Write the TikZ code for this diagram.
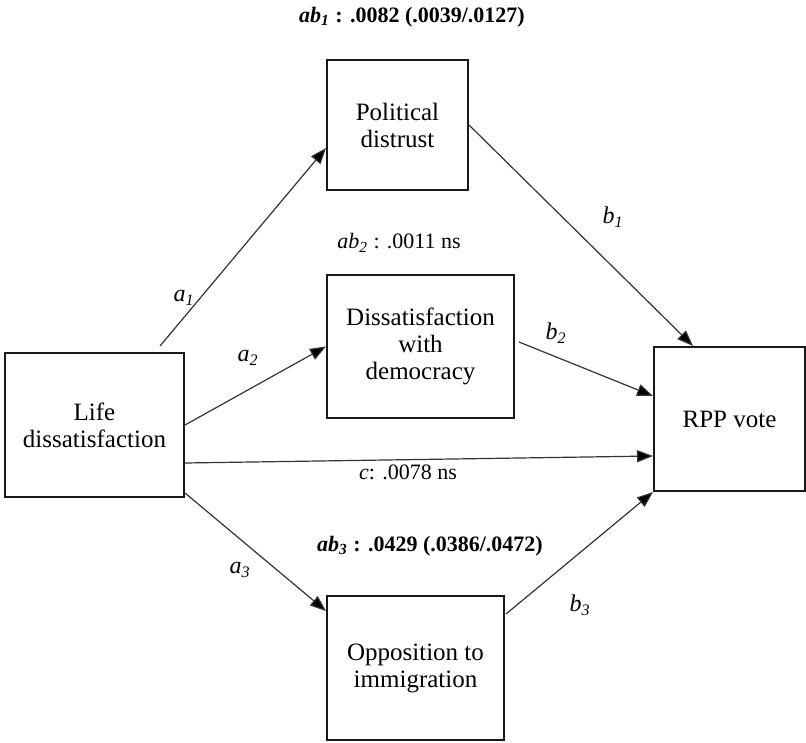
\documentclass[tikz,border=0pt]{standalone}
\usepackage{fontspec}
\setmainfont{Liberation Serif}
\usetikzlibrary{arrows.meta}
\colorlet{inkline}{black!80}
\colorlet{inkbox}{black!90}
\tikzset{
  model/box/.style={draw=inkbox, line width=1pt, inner sep=0pt, align=center,
    font=\fontsize{12.5}{13.5}\selectfont},
  model/path/.style={inkline, line width=0.6pt, -{Triangle[length=8pt,width=6pt,fill=black]}},
  model/coef/.style={font=\fontsize{11}{13}\selectfont, inner sep=1pt},
  model/lbl/.style={font=\fontsize{12}{14}\selectfont, inner sep=1pt}
}
\newcommand{\pth}[2]{\textit{#1}\textsubscript{\textit{#2}}}

\begin{document}
\begin{tikzpicture}[x=0.5pt, y=-0.5pt]
  \useasboundingbox (0,0) rectangle (806,742);
  % boxes
  \node[model/box, minimum width=70.5pt, minimum height=65pt] (pol) at (397.5,125) {Political\\distrust};
  \node[model/box, minimum width=93.5pt, minimum height=71.5pt] (dis) at (420.5,346.5) {Dissatisfaction\\with\\democracy};
  \node[model/box, minimum width=89.5pt, minimum height=72pt] (life) at (94.5,425) {Life\\dissatisfaction};
  \node[model/box, minimum width=75.5pt, minimum height=72pt] (rpp) at (729.5,419) {RPP vote};
  \node[model/box, minimum width=88.5pt, minimum height=72pt] (opp) at (415.5,668) {Opposition to\\immigration};

  % paths
  \draw[model/path] ([xshift=32.75pt,yshift=3pt]life.north) -- ([yshift=-11.5pt]pol.west);
  \draw[model/path] (life.east) -- (dis.west);
  \draw[model/path] ([yshift=-19pt]life.east) -- ([yshift=-18.5pt]rpp.west);
  \draw[model/path] ([yshift=-34pt]life.east) -- ([yshift=28.5pt]opp.west);
  \draw[model/path] (pol.east) -- ([xshift=-18.25pt]rpp.north);
  \draw[model/path] ([xshift=2pt,yshift=2.25pt]dis.east) -- ([yshift=11.5pt]rpp.west);
  \draw[model/path] ([xshift=0.5pt,yshift=27pt]opp.east) -- (rpp.south west);

  % coefficients
  \node[model/lbl] (a1) at (184,298) {\pth{a}{1}};
  \node[model/lbl] (a2) at (248,358) {\pth{a}{2}};
  \node[model/lbl] (a3) at (240,570) {\pth{a}{3}};
  \node[model/lbl] (b1) at (613,217) {\pth{b}{1}};
  \node[model/lbl] (b2) at (556,333) {\pth{b}{2}};
  \node[model/lbl] (b3) at (580,605) {\pth{b}{3}};
  \node[model/coef] (c) at (408,472) {\textit{c}: .0078 ns};
  \node[model/coef] (ab1) at (412,17) {\textbf{\pth{ab}{1} : .0082 (.0039/.0127)}};
  \node[model/coef] (ab2) at (399,243) {\pth{ab}{2} : .0011 ns};
  \node[model/coef] (ab3) at (430,546) {\textbf{\pth{ab}{3} : .0429 (.0386/.0472)}};
\end{tikzpicture}
\end{document}
